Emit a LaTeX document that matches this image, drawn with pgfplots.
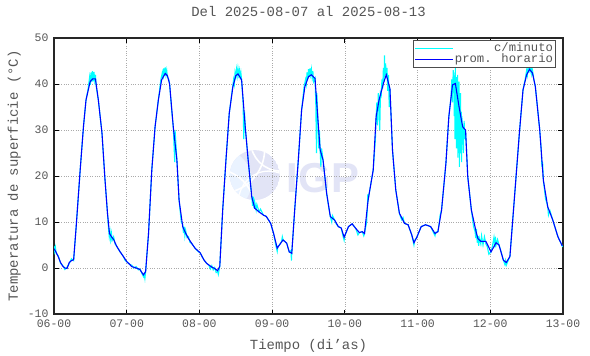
\documentclass[border=0pt]{standalone}
\usepackage{fontspec}
\setmainfont{Liberation Mono}
\newfontfamily\logofont{Liberation Sans}
\usepackage{pgfplots}
\pgfplotsset{compat=1.18}
\definecolor{txt}{RGB}{85,85,85}
\definecolor{cyanl}{RGB}{0,255,255}
\definecolor{bluel}{RGB}{0,0,255}
\definecolor{wm}{RGB}{226,228,246}
\definecolor{wmb}{RGB}{234,243,255}
\definecolor{gridc}{RGB}{170,170,170}
\begin{document}
\begin{tikzpicture}
\begin{axis}[
  set layers,
  at={(0,0)}, anchor=south west,
  scale only axis, width=509bp, height=276bp,
  xmin=0, xmax=7, ymin=-10, ymax=50,
  xtick={0,1,2,3,4,5,6,7},
  xticklabels={06-00,07-00,08-00,09-00,10-00,11-00,12-00,13-00},
  ytick={-10,0,10,20,30,40,50},
  /pgf/number format/assume math mode=true,
  grid=major,
  major grid style={gridc, dotted, line width=0.7pt},
  tick align=inside, major tick length=4.5bp,
  tick style={black, line width=0.9pt},
  axis line style={black!85, line width=1.3pt},
  ticklabel style={font=\fontsize{11.5}{13}\selectfont, text=txt},
  xticklabel style={yshift=-2bp},
  yticklabel style={xshift=-2bp},
  title={Del 2025-08-07 al 2025-08-13},
  title style={at={(axis description cs:0.5,1.076)}, anchor=center, font=\fontsize{14}{16}\selectfont, text=txt},
  xlabel={Tiempo (di'as)},
  xlabel style={at={(axis description cs:0.5,-0.116)}, anchor=center, font=\fontsize{14}{16}\selectfont, text=txt},
  ylabel={Temperatura de superficie (°C)},
  ylabel style={at={(axis description cs:-0.078,0.5)}, anchor=center, font=\fontsize{14}{16}\selectfont, text=txt},
  legend style={at={(rel axis cs:0.986,0.993)}, anchor=north east,
    draw=black!70, line width=0.8pt, fill=white, font=\fontsize{12.3}{13}\selectfont,
    inner sep=1.5pt, row sep=-1.5pt,
    nodes={text=txt, inner sep=1pt, text height=8.5bp, text depth=2.5bp}},
  legend cell align=right,
  legend image code/.code={\draw[#1] (0bp,0bp) -- (38bp,0bp);},
]
\begin{pgfonlayer}{axis background}
  \begin{scope}
    \clip (axis cs:2.76,20.2) circle[radius=25bp];
    \fill[wm] (axis cs:2.76,20.2) circle[radius=25bp];
    \fill[wmb] ([shift={(-36bp,-6bp)}]axis cs:2.76,20.2) circle[radius=33bp];
    \draw[white, line width=1.6bp] ([shift={(-34bp,26bp)}]axis cs:2.76,20.2) circle[radius=44bp];
    \draw[white, line width=1.6bp] ([shift={(-40bp,-34bp)}]axis cs:2.76,20.2) circle[radius=40bp];
    \draw[white, line width=1.6bp] ([shift={(26bp,34bp)}]axis cs:2.76,20.2) circle[radius=30bp];
    \draw[white, line width=1.3bp] ([shift={(14bp,-26bp)}]axis cs:2.76,20.2) circle[radius=30bp];
  \end{scope}
  \node[anchor=base west, inner sep=0pt, text=wm, font=\logofont\bfseries\fontsize{42}{42}\selectfont] at (axis cs:3.20,16.5) {IGP};
\end{pgfonlayer}

\addplot[cyanl, line width=1.1pt] coordinates {
(0.00,4.8)(0.01,3.6)(0.02,4.5)(0.03,3.2)(0.06,2.6)(0.09,1.0)(0.12,0.6)(0.15,-0.3)(0.18,0.2)(0.21,1.0)(0.24,2.0)(0.27,1.6)(0.305,9)(0.36,21.3)(0.405,30.7)(0.44,36.5)(0.47,39)(0.49,41.5)(0.50,39.8)(0.51,42.5)(0.52,40.5)(0.53,42.8)(0.54,40.6)(0.55,42.6)(0.56,40.8)(0.57,42)(0.58,39.5)(0.61,36.5)(0.66,29.3)(0.70,19.5)(0.735,12)(0.75,8.5)(0.76,6.8)(0.77,8)(0.78,6.2)(0.79,7.5)(0.80,6)(0.82,6.8)(0.84,5.2)(0.86,4.8)(0.88,4.2)(0.91,3.5)(0.95,2.6)(0.98,1.6)(1.00,1.4)(1.04,0.8)(1.07,0.6)(1.10,0.0)(1.13,0.3)(1.16,-0.4)(1.18,-0.2)(1.21,-1.2)(1.23,-1.9)(1.24,-1.3)(1.25,-2.3)(1.26,-0.8)(1.30,7.5)(1.345,21.3)(1.39,30.7)(1.435,36.5)(1.47,41)(1.49,42.5)(1.50,41)(1.51,43.4)(1.52,41.8)(1.53,43.6)(1.54,42)(1.55,43)(1.56,41.5)(1.58,41)(1.59,40)(1.62,34)(1.64,30.7)(1.65,27)(1.66,23)(1.665,30)(1.69,23.5)(1.72,14.8)(1.75,10)(1.77,9.5)(1.78,7.6)(1.79,9)(1.80,7)(1.81,8.2)(1.83,6.6)(1.85,6.8)(1.87,5.6)(1.90,5.2)(1.94,4.3)(1.98,3.6)(2.01,3.3)(2.06,1.8)(2.10,1.0)(2.13,0.6)(2.15,-0.2)(2.17,0.5)(2.19,-0.4)(2.21,0.1)(2.23,-1.0)(2.25,-0.8)(2.26,-1.4)(2.28,0.4)(2.32,12.6)(2.365,23.5)(2.41,33.6)(2.45,38.5)(2.47,41)(2.48,40)(2.49,42.5)(2.50,41.6)(2.51,43.2)(2.52,41.8)(2.53,43.4)(2.54,42)(2.55,43)(2.56,41.5)(2.57,42.5)(2.58,40.9)(2.60,36)(2.61,28)(2.62,34)(2.63,30.7)(2.67,23.5)(2.72,15.5)(2.73,13.5)(2.74,15.5)(2.75,13)(2.76,14.4)(2.78,12.6)(2.79,13.8)(2.82,12.2)(2.84,12.8)(2.88,11.5)(2.92,11.2)(2.98,9.7)(3.02,7.5)(3.05,5)(3.07,3.6)(3.08,4.8)(3.10,5.0)(3.13,5.8)(3.14,6.8)(3.15,6.1)(3.20,5.4)(3.235,3.5)(3.26,3.8)(3.265,1.6)(3.27,3.2)(3.31,12.6)(3.36,23.5)(3.405,34.3)(3.44,39.5)(3.46,41)(3.47,40)(3.48,42.5)(3.49,41)(3.50,43.2)(3.51,41.5)(3.52,43.4)(3.53,42)(3.54,43.2)(3.55,41.5)(3.56,42.8)(3.57,40.5)(3.59,41.2)(3.60,36)(3.61,25)(3.615,38)(3.63,32.2)(3.64,26)(3.65,30)(3.66,25.7)(3.67,22)(3.68,26)(3.70,23.5)(3.75,16.2)(3.78,13)(3.80,11.2)(3.82,10)(3.83,11.4)(3.86,10.4)(3.88,9.6)(3.91,9)(3.95,8.7)(3.97,7.2)(3.99,6.0)(4.00,7.0)(4.05,9)(4.10,9.6)(4.15,8.6)(4.18,7.2)(4.20,7.7)(4.24,7.9)(4.26,7.0)(4.27,7.5)(4.30,10)(4.31,13)(4.315,16)(4.32,14.8)(4.39,21.3)(4.42,28)(4.43,32.9)(4.44,36)(4.45,31)(4.46,38)(4.47,36.5)(4.48,30)(4.49,38)(4.50,37.5)(4.51,41)(4.52,39)(4.53,43.5)(4.54,40.5)(4.545,46.2)(4.55,41.5)(4.56,44.5)(4.57,42)(4.58,43.5)(4.59,38.5)(4.60,42)(4.61,35)(4.62,39)(4.655,25.7)(4.70,17)(4.75,11.9)(4.78,10.5)(4.80,11)(4.82,9.7)(4.87,9.4)(4.92,7.2)(4.95,5.0)(4.96,6.0)(4.99,6.7)(5.05,9)(5.11,9.4)(5.18,9.0)(5.24,7.0)(5.25,7.8)(5.28,7.9)(5.30,10)(5.31,11.5)(5.33,12.6)(5.39,22.8)(5.43,32.9)(5.46,37)(5.47,41)(5.48,36)(5.49,43)(5.495,38)(5.50,42.5)(5.505,33)(5.51,41)(5.515,28)(5.52,43.5)(5.525,30)(5.53,41.5)(5.535,26)(5.54,40)(5.545,32)(5.55,42)(5.555,24)(5.56,38)(5.565,31)(5.57,40.5)(5.575,22)(5.58,36)(5.585,29)(5.59,38)(5.595,25)(5.60,34)(5.605,23)(5.61,33)(5.615,27)(5.62,31)(5.63,25)(5.64,32)(5.65,28)(5.66,30)(5.69,19.9)(5.74,12.6)(5.77,9)(5.79,8)(5.80,6.5)(5.81,8.5)(5.82,5.5)(5.83,7)(5.84,4.8)(5.85,6.5)(5.87,5.2)(5.88,7.0)(5.90,5)(5.92,6.8)(5.94,5.2)(5.96,4.6)(5.98,3.0)(6.01,3.5)(6.03,4.8)(6.05,6.6)(6.06,4.5)(6.07,6.8)(6.08,5.0)(6.10,6.2)(6.12,5.0)(6.15,3.5)(6.18,1.7)(6.20,0.8)(6.21,1.6)(6.22,0.6)(6.24,1.4)(6.27,2.5)(6.33,14.8)(6.40,29.3)(6.45,38.7)(6.48,41)(6.50,43)(6.51,42)(6.52,44)(6.53,42.5)(6.54,44.6)(6.55,43)(6.56,44)(6.57,42.2)(6.58,43)(6.60,41)(6.62,39.4)(6.68,30)(6.70,26)(6.71,22)(6.72,23)(6.73,19.1)(6.76,15)(6.78,14)(6.79,13.3)(6.80,11.5)(6.82,12.5)(6.86,10.4)(6.93,6.8)(6.99,4.8)(7.0,4.6)
};
\addlegendentry{c/minuto}

\addplot[bluel, line width=1.1pt] coordinates {
(0.00,4.2)(0.03,3.4)(0.06,2.4)(0.09,1.2)(0.12,0.4)(0.15,0.0)(0.18,-0.1)(0.21,1.2)(0.24,1.6)(0.27,1.8)(0.305,9)(0.36,21.3)(0.405,30.7)(0.44,36.5)(0.497,40.5)(0.53,41.1)(0.57,41.1)(0.61,36.5)(0.66,29.3)(0.70,19.5)(0.735,12)(0.763,7.5)(0.79,6.8)(0.82,6.2)(0.86,4.8)(0.91,3.5)(0.95,2.6)(1.00,1.4)(1.04,0.8)(1.07,0.3)(1.13,0.0)(1.18,-0.3)(1.23,-1.5)(1.26,-0.8)(1.30,7.5)(1.345,21.3)(1.39,30.7)(1.435,36.5)(1.48,40.9)(1.53,42.3)(1.56,41.8)(1.59,40)(1.64,30.7)(1.69,23.5)(1.72,14.8)(1.77,9)(1.81,7.6)(1.85,6.4)(1.90,5.2)(1.94,4.3)(2.01,3.3)(2.06,1.8)(2.10,1.0)(2.17,0.2)(2.21,-0.1)(2.25,-0.6)(2.28,0.4)(2.32,12.6)(2.365,23.5)(2.41,33.6)(2.46,39.4)(2.50,41.8)(2.53,42.2)(2.58,40.9)(2.63,30.7)(2.67,23.5)(2.72,15.5)(2.76,13)(2.82,12.2)(2.88,11.5)(2.92,11.2)(2.98,9.7)(3.02,7.5)(3.07,4.3)(3.10,5.0)(3.15,6.1)(3.20,5.4)(3.235,3.5)(3.27,3.2)(3.31,12.6)(3.36,23.5)(3.405,34.3)(3.45,39.4)(3.50,41.6)(3.54,42)(3.59,41.2)(3.63,32.2)(3.66,25.7)(3.70,23.5)(3.75,16.2)(3.80,11.2)(3.86,10.4)(3.91,9)(3.95,8.7)(3.99,6.7)(4.05,9)(4.10,9.6)(4.15,8.6)(4.20,7.7)(4.24,7.9)(4.27,7.5)(4.32,14.8)(4.39,21.3)(4.43,32.9)(4.47,36.5)(4.53,40.1)(4.57,42)(4.62,39)(4.655,25.7)(4.70,17)(4.75,11.9)(4.82,9.7)(4.87,9.4)(4.92,7.2)(4.95,5.5)(4.99,6.7)(5.05,9)(5.11,9.4)(5.18,9.0)(5.24,7.5)(5.28,7.9)(5.33,12.6)(5.39,22.8)(5.43,32.9)(5.48,39.8)(5.52,40.1)(5.57,35.1)(5.62,30.7)(5.66,30)(5.69,19.9)(5.74,12.6)(5.81,7.5)(5.83,6.4)(5.87,5.8)(5.94,5.8)(6.01,3.5)(6.08,5.5)(6.12,5.0)(6.18,1.7)(6.22,1.2)(6.27,2.5)(6.33,14.8)(6.40,29.3)(6.45,38.7)(6.50,42)(6.54,43.2)(6.58,42.4)(6.62,39.4)(6.68,30)(6.73,19.1)(6.79,13.3)(6.86,10.4)(6.93,6.8)(6.99,4.8)
};
\addlegendentry{prom. horario}
\end{axis}
\path (-54bp,-40bp) rectangle (536bp,314bp);
\end{tikzpicture}
\end{document}
